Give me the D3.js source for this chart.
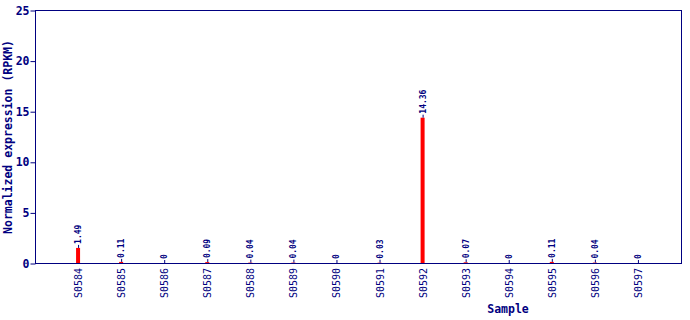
<!DOCTYPE html>
<html>
<head>
<meta charset="utf-8">
<script src="https://cdn.jsdelivr.net/npm/d3@7"></script>
<style>
  body { margin: 0; background: #fff; }
  text { font-family: 'DejaVu Sans Mono', monospace; fill: #000080; }
</style>
</head>
<body>
<svg></svg>
<script>
'use strict';

const svgWidth = 690;
const svgHeight = 320;

const samples = ['S0584', 'S0585', 'S0586', 'S0587', 'S0588', 'S0589', 'S0590',
  'S0591', 'S0592', 'S0593', 'S0594', 'S0595', 'S0596', 'S0597'];
const values = [1.49, 0.11, 0, 0.09, 0.04, 0.04, 0, 0.03, 14.36, 0.07, 0, 0.11, 0.04, 0];
const yTicks = [0, 5, 10, 15, 20, 25];

const navy = '#000080';
const plot = { left: 35, right: 681, top: 10, bottom: 263 };

const svg = d3.select('svg')
  .attr('width', svgWidth)
  .attr('height', svgHeight);

const x = d3.scalePoint()
  .domain(samples)
  .range([plot.left, plot.right])
  .padding(1);

const y = d3.scaleLinear()
  .domain([0, 25])
  .range([plot.bottom, plot.top]);

// frame
svg.append('rect')
  .attr('x', plot.left + 0.5)
  .attr('y', plot.top + 0.5)
  .attr('width', plot.right - plot.left)
  .attr('height', plot.bottom - plot.top)
  .attr('fill', 'none')
  .attr('stroke', navy);

// y axis
let yAxis = svg.append('g')
  .attr('transform', `translate(${plot.left + 0.5},0.5)`)
  .call(d3.axisLeft(y).tickValues(yTicks).tickSize(5).tickSizeOuter(0));
yAxis.select('.domain').remove();
yAxis.selectAll('line').attr('stroke', navy);
yAxis.selectAll('text')
  .attr('font-family', "'DejaVu Sans Mono', monospace")
  .attr('font-weight', 'bold')
  .attr('font-size', 11.5)
  .attr('fill', navy)
  .attr('x', -6);

// bars
let data = samples.map((s, i) => ({ s, v: values[i] }));

svg.append('g')
  .attr('fill', '#ff0000')
  .selectAll('rect')
  .data(data)
  .join('rect')
  .attr('x', d => x(d.s) - 2)
  .attr('y', d => y(d.v))
  .attr('width', 4)
  .attr('height', d => y(0) - y(d.v));

// little stems under value labels
svg.append('g')
  .attr('stroke', navy)
  .selectAll('line')
  .data(data)
  .join('line')
  .attr('x1', d => x(d.s) + 0.5)
  .attr('x2', d => x(d.s) + 0.5)
  .attr('y1', d => y(d.v))
  .attr('y2', d => y(d.v) - 3);

// value labels
svg.append('g')
  .selectAll('text')
  .data(data)
  .join('text')
  .attr('transform', d => `translate(${x(d.s) + 3},${y(d.v) - 4}) rotate(-90)`)
  .attr('font-size', 8)
  .attr('font-weight', 'bold')
  .text(d => d.v);

// category labels
svg.append('g')
  .selectAll('text')
  .data(samples)
  .join('text')
  .attr('transform', d => `translate(${x(d) + 4},${plot.bottom + 5}) rotate(-90)`)
  .attr('text-anchor', 'end')
  .attr('font-size', 10)
  .text(d => d);

// axis titles
svg.append('text')
  .attr('transform', 'translate(12,137) rotate(-90)')
  .attr('text-anchor', 'middle')
  .attr('font-size', 11.5)
  .attr('font-weight', 'bold')
  .text('Normalized expression (RPKM)');

svg.append('text')
  .attr('x', 508)
  .attr('y', 313)
  .attr('text-anchor', 'middle')
  .attr('font-size', 11.5)
  .attr('font-weight', 'bold')
  .text('Sample');
</script>
</body>
</html>
